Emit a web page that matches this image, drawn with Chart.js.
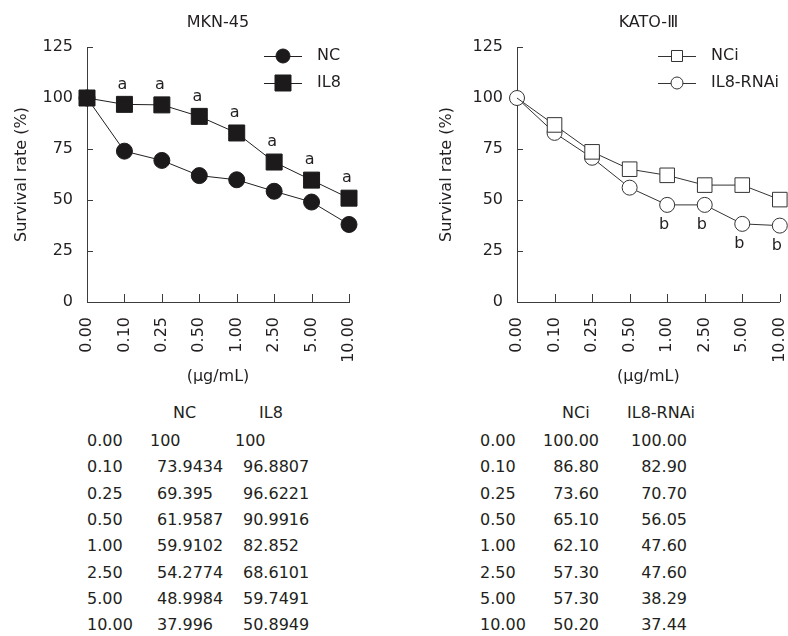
<!DOCTYPE html>
<html>
<head>
<meta charset="utf-8">
<script src="https://cdn.jsdelivr.net/npm/chart.js@4.4.1/dist/chart.umd.min.js"></script>
<style>
  html, body { margin: 0; padding: 0; background: #fff; }
  body {
    width: 788px; height: 636px; overflow: hidden; position: relative;
    font-family: "DejaVu Sans", sans-serif; font-size: 16px; color: #231f20;
  }
  #left { position: absolute; left: 0; top: 0; }
  #right { position: absolute; left: 394px; top: 0; }
  .cell { position: absolute; white-space: nowrap; line-height: 20px; }
</style>
</head>
<body>
<canvas id="left" width="394" height="390"></canvas>
<canvas id="right" width="420" height="390"></canvas>
<div id="tables"></div>
<script>
// doses (x categories) and y ticks
const doses = ["0.00", "0.10", "0.25", "0.50", "1.00", "2.50", "5.00", "10.00"];
const yTicks = [0, 25, 50, 75, 100, 125];

// MKN-45
const ncValues = [100, 73.9434, 69.395, 61.9587, 59.9102, 54.2774, 48.9984, 37.996];
const il8Values = [100, 96.8807, 96.6221, 90.9916, 82.852, 68.6101, 59.7491, 50.8949];
const il8Marks = ["", "a", "a", "a", "a", "a", "a", "a"];

// KATO-III
const nciValues = [100.0, 86.8, 73.6, 65.1, 62.1, 57.3, 57.3, 50.2];
const rnaiValues = [100.0, 82.9, 70.7, 56.05, 47.6, 47.6, 38.29, 37.44];
const rnaiMarks = ["", "", "", "", "b", "b", "b", "b"];

const ink = "#231f20";
const axisInk = "#3c3c3c";
const fontFamily = "'DejaVu Sans', sans-serif";

function drawMarker(ctx, style, r, x, y, fill, stroke) {
  ctx.beginPath();
  if (style === "rect") {
    const s = Math.SQRT1_2 * r;
    ctx.rect(x - s, y - s, 2 * s, 2 * s);
  } else {
    ctx.arc(x, y, r, 0, Math.PI * 2);
  }
  ctx.fillStyle = fill;
  ctx.fill();
  ctx.lineWidth = 1;
  ctx.strokeStyle = stroke;
  ctx.stroke();
}

// inner tick marks, letters over/under points and the line+marker legend
const panelPlugin = {
  id: "panel",
  beforeDatasetsDraw(chart) {
    const { ctx, chartArea, scales: { x, y } } = chart;
    ctx.save();
    ctx.strokeStyle = axisInk;
    ctx.lineWidth = 1;
    ctx.beginPath();
    x.ticks.forEach((t, i) => {
      const px = Math.round(x.getPixelForTick(i)) + 0.5;
      ctx.moveTo(px, chartArea.bottom);
      ctx.lineTo(px, chartArea.bottom - 8);
    });
    y.ticks.forEach((t, i) => {
      const py = Math.round(y.getPixelForTick(i)) + 0.5;
      ctx.moveTo(chartArea.left, py);
      ctx.lineTo(chartArea.left + 6, py);
    });
    ctx.stroke();
    ctx.restore();
  },
  afterDatasetsDraw(chart, args, opts) {
    const ctx = chart.ctx;
    ctx.save();
    ctx.font = "16px " + fontFamily;
    ctx.textBaseline = "middle";
    chart.data.datasets.forEach((ds, i) => {
      if (!ds.marks) return;
      const meta = chart.getDatasetMeta(i);
      ctx.fillStyle = ink;
      ctx.textAlign = "center";
      ds.marks.forEach((m, j) => {
        if (!m) return;
        const p = meta.data[j];
        ctx.fillText(m, p.x + ds.markDx, p.y + ds.markDy);
      });
    });
    chart.data.datasets.forEach((ds, i) => {
      const cy = opts.y + i * opts.gap;
      ctx.strokeStyle = ds.borderColor;
      ctx.lineWidth = 1;
      ctx.beginPath();
      ctx.moveTo(opts.x, cy + 0.5);
      ctx.lineTo(opts.x + 38, cy + 0.5);
      ctx.stroke();
      drawMarker(ctx, ds.pointStyle, ds.legendRadius, opts.x + 19, cy, ds.pointBackgroundColor, ds.pointBorderColor);
      ctx.fillStyle = ink;
      ctx.textAlign = "left";
      ctx.fillText(ds.label, opts.x + 53, cy);
    });
    ctx.restore();
  }
};

function makeChart(id, title, datasets, pad, yWidth) {
  return new Chart(document.getElementById(id), {
    type: "line",
    data: { labels: doses, datasets: datasets },
    plugins: [panelPlugin],
    options: {
      responsive: false,
      animation: false,
      events: [],
      layout: { padding: { left: pad.left, right: pad.right, top: 0, bottom: 0 } },
      plugins: {
        legend: { display: false },
        tooltip: { enabled: false },
        title: {
          display: true,
          text: title,
          fullSize: false,
          color: ink,
          font: { family: fontFamily, size: 16, weight: "normal" },
          padding: { top: 13, bottom: 14.8 },
        },
        panel: { x: 264, y: 56, gap: 27 },
      },
      scales: {
        x: {
          offset: false,
          grid: { display: false, drawTicks: false },
          border: { display: true, color: axisInk, width: 1 },
          ticks: {
            color: ink,
            font: { family: fontFamily, size: 16 },
            minRotation: 90,
            maxRotation: 90,
            autoSkip: false,
            padding: 15,
          },
          title: {
            display: true,
            text: "(\u03bcg/mL)",
            color: ink,
            font: { family: fontFamily, size: 16 },
            padding: { top: 4, bottom: 4 },
          },
          afterFit: (s) => { s.height = 88; },
        },
        y: {
          min: 0,
          max: 125,
          grid: { display: false, drawTicks: false },
          border: { display: true, color: axisInk, width: 1 },
          afterBuildTicks: (s) => { s.ticks = yTicks.map((v) => ({ value: v })); },
          ticks: {
            color: ink,
            font: { family: fontFamily, size: 16 },
            padding: 14,
          },
          title: {
            display: true,
            text: "Survival rate (%)",
            color: ink,
            font: { family: fontFamily, size: 16 },
            padding: { top: 12, bottom: 4 },
          },
          afterFit: (s) => { s.width = yWidth; },
        },
      },
    },
  });
}

makeChart("left", "MKN-45", [
  {
    label: "NC",
    data: ncValues,
    order: 1,
    clip: false,
    borderColor: "#231f20",
    borderWidth: 1,
    pointStyle: "circle",
    pointRadius: 8,
    legendRadius: 7,
    pointBackgroundColor: "#1c1a1b",
    pointBorderColor: "#1c1a1b",
  },
  {
    label: "IL8",
    data: il8Values,
    order: 0,
    clip: false,
    borderColor: "#231f20",
    borderWidth: 1,
    pointStyle: "rect",
    pointRadius: 11.3,
    legendRadius: 11.3,
    pointBackgroundColor: "#1c1a1b",
    pointBorderColor: "#1c1a1b",
    marks: il8Marks,
    markDx: -2,
    markDy: -20,
  },
], { left: 0, right: 45 }, 87);

makeChart("right", "KATO-\u2162", [
  {
    label: "NCi",
    data: nciValues,
    clip: false,
    borderColor: "#333",
    borderWidth: 1,
    pointStyle: "rect",
    pointRadius: (c) => (c.dataIndex === 0 ? 0 : 10.3),
    legendRadius: 7.8,
    pointBackgroundColor: "#fff",
    pointBorderColor: "#333",
  },
  {
    label: "IL8-RNAi",
    data: rnaiValues,
    clip: false,
    borderColor: "#333",
    borderWidth: 1,
    pointStyle: "circle",
    pointRadius: 7.5,
    legendRadius: 6,
    pointBackgroundColor: "#fff",
    pointBorderColor: "#333",
    marks: rnaiMarks,
    markDx: -3,
    markDy: 20,
  },
], { left: 31, right: 31 }, 92);

// value tables under the charts
const tables = document.getElementById("tables");
function cell(text, x, y, align) {
  const d = document.createElement("div");
  d.className = "cell";
  d.textContent = text;
  d.style.top = (y - 10) + "px";
  d.style.left = x + "px";
  if (align === "right") d.style.transform = "translateX(-100%)";
  tables.appendChild(d);
}

const headY = 413;
const rowY = (i) => 441 + i * 26.3;

cell("NC", 173, headY);
cell("IL8", 259, headY);
doses.forEach((d, i) => {
  cell(d, 87, rowY(i));
  cell(String(ncValues[i]), i === 0 ? 150 : 157, rowY(i));
  cell(String(il8Values[i]), i === 0 ? 235 : 243, rowY(i));
});

cell("NCi", 562, headY);
cell("IL8-RNAi", 627, headY);
doses.forEach((d, i) => {
  cell(d, 480, rowY(i));
  cell(nciValues[i].toFixed(2), 599, rowY(i), "right");
  cell(rnaiValues[i].toFixed(2), 687, rowY(i), "right");
});
</script>
</body>
</html>
